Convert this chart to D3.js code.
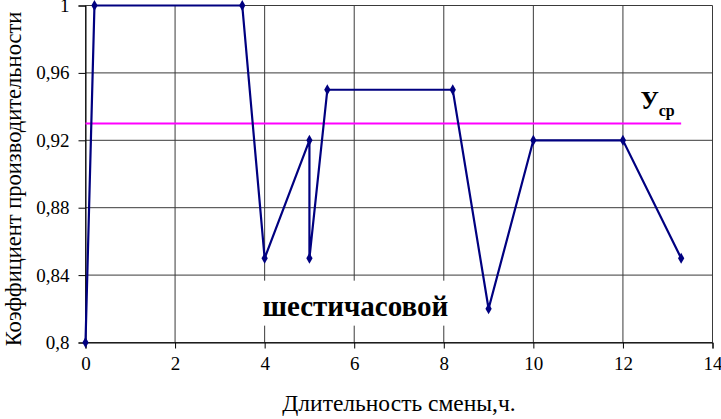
<!DOCTYPE html>
<html>
<head>
<meta charset="utf-8">
<script src="https://cdn.jsdelivr.net/npm/d3@7"></script>
<style>
  body { margin: 0; background: #fff; }
</style>
</head>
<body>
<div id="chart"></div>
<script>
'use strict'

// shift length (h) and productivity coefficient
let shiftHours = [0, 0.2, 3.5, 4, 5, 5, 5.4, 8.2, 9, 10, 12, 13.3]
let coefValues = [0.8, 1, 1, 0.85, 0.92, 0.85, 0.95, 0.95, 0.82, 0.92, 0.92, 0.85]

// average level line
let avgHours = [0, 13.3]
let avgValues = [0.93, 0.93]

let xTicks = [0, 2, 4, 6, 8, 10, 12, 14]
let yTicks = [0.8, 0.84, 0.88, 0.92, 0.96, 1]

let width = 721
let height = 419
let margin = { top: 5.5, right: 8.5, bottom: 76.5, left: 85.5 }
let plotW = width - margin.left - margin.right
let plotH = height - margin.top - margin.bottom
let serif = "'Liberation Serif', Tinos, 'Times New Roman', 'DejaVu Serif', serif"

let ruFormat = d3.formatLocale({ decimal: ",", thousands: " ", grouping: [3], currency: ["", ""] })

let svg = d3.select("#chart").append("svg")
  .attr("width", width)
  .attr("height", height)
  .attr("font-family", serif)

let g = svg.append("g")
  .attr("transform", "translate(" + margin.left + "," + margin.top + ")")

let x = d3.scaleLinear().domain([0, 14]).range([0, plotW])
let y = d3.scaleLinear().domain([0.8, 1]).range([plotH, 0])

// grid
g.append("g")
  .selectAll("line")
  .data(xTicks)
  .enter().append("line")
  .attr("x1", d => x(d)).attr("x2", d => x(d))
  .attr("y1", 0).attr("y2", plotH)
  .attr("stroke", "#3a3a3a").attr("stroke-width", 1)

g.append("g")
  .selectAll("line")
  .data(yTicks)
  .enter().append("line")
  .attr("x1", 0).attr("x2", plotW)
  .attr("y1", d => y(d)).attr("y2", d => y(d))
  .attr("stroke", "#3a3a3a").attr("stroke-width", 1)

// axes
let xAxis = g.append("g")
  .attr("transform", "translate(0," + plotH + ")")
  .call(d3.axisBottom(x).tickValues(xTicks).tickSize(6).tickPadding(8).tickFormat(d3.format("d")))
let yAxis = g.append("g")
  .call(d3.axisLeft(y).tickValues(yTicks).tickSize(7).tickPadding(9)
    .tickFormat(d => ruFormat.format("~g")(d)))

svg.selectAll(".domain").attr("stroke", "#000")
svg.selectAll(".tick line").attr("stroke", "#000")
xAxis.attr("font-family", serif).attr("font-size", 19)
yAxis.attr("font-family", serif).attr("font-size", 19)
svg.selectAll(".tick text").attr("fill", "#000")

// label box inside plot
g.append("rect")
  .attr("x", x(3.85)).attr("y", y(0.8367))
  .attr("width", x(8.2) - x(3.85)).attr("height", y(0.81) - y(0.8367))
  .attr("fill", "#fff")
g.append("text")
  .attr("x", (x(3.95) + x(8.1)) / 2)
  .attr("y", y(0.8159))
  .attr("text-anchor", "middle")
  .attr("font-size", 29)
  .attr("font-weight", "bold")
  .text("шестичасовой")

// average line
let line = d3.line().x(d => x(d[0])).y(d => y(d[1]))
g.append("path")
  .datum(d3.zip(avgHours, avgValues))
  .attr("d", line)
  .attr("fill", "none")
  .attr("stroke", "#ff00ff")
  .attr("stroke-width", 2)

// data series
let pts = d3.zip(shiftHours, coefValues)
g.append("path")
  .datum(pts)
  .attr("d", line)
  .attr("fill", "none")
  .attr("stroke", "#000080")
  .attr("stroke-width", 2.2)

g.selectAll("path.mk")
  .data(pts)
  .enter().append("path")
  .attr("class", "mk")
  .attr("transform", d => "translate(" + x(d[0]) + "," + y(d[1]) + ")")
  .attr("d", d3.symbol().type(d3.symbolDiamond).size(34))
  .attr("fill", "#000080")

// Y avg label
g.append("text")
  .attr("x", x(12.39))
  .attr("y", y(0.9386))
  .attr("font-weight", "bold")
  .attr("font-size", 25)
  .text("У")
  .append("tspan")
  .attr("dy", 7)
  .attr("font-size", 16)
  .text("ср")

// axis titles
svg.append("text")
  .attr("x", margin.left + plotW / 2)
  .attr("y", 411)
  .attr("text-anchor", "middle")
  .attr("font-size", 23.5)
  .text("Длительность смены,ч.")

svg.append("text")
  .attr("transform", "translate(21," + 179 + ")rotate(-90)")
  .attr("text-anchor", "middle")
  .attr("font-size", 22.5)
  .text("Коэффициент производительности")
</script>
</body>
</html>
